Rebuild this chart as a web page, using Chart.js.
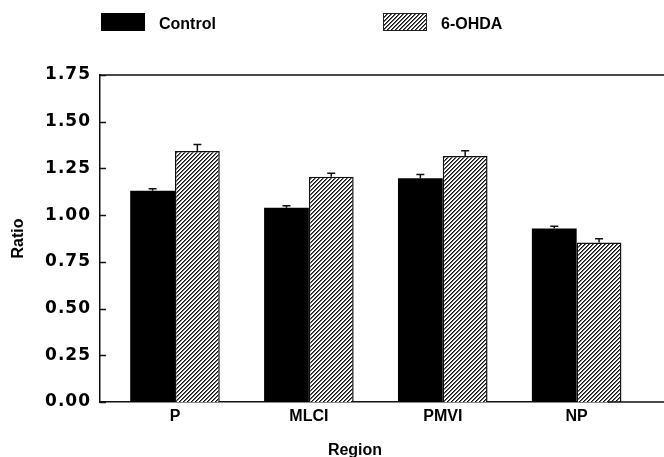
<!DOCTYPE html>
<html><head><meta charset="utf-8">
<script src="https://cdn.jsdelivr.net/npm/chart.js@4.4.1/dist/chart.umd.min.js"></script>
<style>html,body{margin:0;padding:0;background:#fff}#wrap{width:664px;height:457px}</style>
</head><body><div id="wrap"><canvas id="c" width="664" height="457"></canvas></div>
<script>
const categories = ['P', 'MLCI', 'PMVI', 'NP'];
const seriesNames = ['Control', '6-OHDA'];
const controlValues = [1.13, 1.04, 1.197, 0.929];
const controlErrors = [0.011, 0.01, 0.021, 0.012];
const ohdaValues = [1.343, 1.206, 1.316, 0.854];
const ohdaErrors = [0.035, 0.018, 0.028, 0.02];
const yTicks = [0, 0.25, 0.5, 0.75, 1.0, 1.25, 1.5, 1.75];
const xTitle = 'Region';
const yTitle = 'Ratio';

const FONT = {family: "'Liberation Sans', Arial, sans-serif", size: 16, weight: 'bold'};
const TICKFONT = {family: "'DejaVu Sans', sans-serif", size: 17, weight: 'bold'};
const canvas = document.getElementById('c');
const ctx0 = canvas.getContext('2d');

function makeHatch() {
  const t = document.createElement('canvas');
  t.width = 4; t.height = 4;
  const g = t.getContext('2d');
  g.fillStyle = '#ffffff'; g.fillRect(0, 0, 4, 4);
  for (let x = 0; x < 4; x++) for (let y = 0; y < 4; y++) {
    const k = (x + y) % 4;
    if (k === 0) { g.fillStyle = '#111111'; g.fillRect(x, y, 1, 1); }
    else if (k === 1) { g.fillStyle = '#6a6a6a'; g.fillRect(x, y, 1, 1); }
  }
  return ctx0.createPattern(t, 'repeat');
}
const hatch = makeHatch();

const errorsBySeries = [controlErrors, ohdaErrors];

const errorBars = {
  id: 'errorBars',
  afterDatasetsDraw(chart) {
    const {ctx, scales: {y}} = chart;
    ctx.save();
    ctx.strokeStyle = '#111';
    ctx.lineWidth = 1.5;
    chart.data.datasets.forEach((ds, i) => {
      const meta = chart.getDatasetMeta(i);
      meta.data.forEach((bar, j) => {
        const v = ds.data[j].y;
        const top = y.getPixelForValue(v + errorsBySeries[i][j]);
        ctx.beginPath();
        ctx.moveTo(bar.x, bar.y);
        ctx.lineTo(bar.x, top);
        ctx.moveTo(bar.x - 4, top);
        ctx.lineTo(bar.x + 4, top);
        ctx.stroke();
      });
    });
    ctx.restore();
    // slightly wider spacing for the y tick labels drawn next (z = 1 layer)
    ctx.letterSpacing = '1px';
  }
};

const frame = {
  id: 'frame',
  afterDraw(chart) {
    const {ctx, chartArea: a, scales: {y}} = chart;
    ctx.letterSpacing = '0px';
    ctx.save();
    ctx.strokeStyle = '#111';
    ctx.lineWidth = 1.5;
    ctx.beginPath();
    ctx.moveTo(a.left, a.top);
    ctx.lineTo(chart.width, a.top);
    const yb = y.getPixelForValue(0);
    ctx.moveTo(a.right - 2, yb);
    ctx.lineTo(chart.width, yb);
    yTicks.forEach(v => {
      const py = Math.round(y.getPixelForValue(v)) + 0.5;
      ctx.moveTo(a.left, py);
      ctx.lineTo(a.left + 6, py);
    });
    ctx.stroke();
    ctx.restore();
  }
};

const legendBoxes = {
  id: 'legendBoxes',
  afterDraw(chart) {
    const {ctx} = chart;
    const pos = [101, 383];
    ctx.save();
    chart.data.datasets.forEach((ds, i) => {
      const x = pos[i], y = 13;
      ctx.fillStyle = ds.backgroundColor;
      ctx.fillRect(x, y, 44, 18);
      if (ds.borderWidth) {
        ctx.strokeStyle = '#222';
        ctx.lineWidth = 1;
        ctx.strokeRect(x + 0.5, y + 0.5, 43, 17);
      }
      ctx.fillStyle = '#000';
      ctx.font = `bold ${FONT.size}px ${FONT.family}`;
      ctx.textBaseline = 'middle';
      ctx.textAlign = 'left';
      ctx.fillText(ds.label, x + 58, y + 12);
    });
    ctx.restore();
  }
};

new Chart(canvas, {
  type: 'bar',
  data: {
    datasets: [
      {label: seriesNames[0], data: controlValues.map((v, i) => ({x: i, y: v})),
       backgroundColor: '#000000', borderWidth: 0, clip: false},
      {label: seriesNames[1], data: ohdaValues.map((v, i) => ({x: i, y: v})),
       backgroundColor: hatch, borderColor: '#111', borderWidth: 1.5, clip: false}
    ]
  },
  options: {
    responsive: false,
    devicePixelRatio: 1,
    animation: false,
    categoryPercentage: 0.669,
    barPercentage: 1.0,
    layout: {padding: {top: 75, left: 0, right: 54, bottom: 0}},
    plugins: {legend: {display: false}, tooltip: {enabled: false}},
    scales: {
      x: {
        type: 'linear', min: -0.56, max: 3.249, offset: false,
        afterBuildTicks: s => { s.ticks = categories.map((_, i) => ({value: i})); },
        afterFit: s => { s.height = 55; },
        grid: {display: false, drawTicks: false, offset: false},
        border: {display: true, color: '#111', width: 1.5},
        ticks: {callback: v => categories[v], padding: 5, font: FONT, color: '#000', autoSkip: false, maxRotation: 0},
        title: {display: true, text: xTitle, font: FONT, color: '#000', padding: {top: 0, bottom: -3}}
      },
      y: {
        min: 0, max: 1.75,
        afterBuildTicks: s => { s.ticks = yTicks.map(v => ({value: v})); },
        afterFit: s => { s.width = 100; },
        grid: {display: false, drawTicks: false},
        border: {display: true, color: '#111', width: 1.5},
        ticks: {callback: v => v.toFixed(2), padding: 9, font: TICKFONT, color: '#000', z: 1},
        title: {display: true, text: yTitle, font: FONT, color: '#000', padding: {top: 8.5, bottom: 0}}
      }
    }
  },
  plugins: [errorBars, frame, legendBoxes]
});
</script>
</body></html>
